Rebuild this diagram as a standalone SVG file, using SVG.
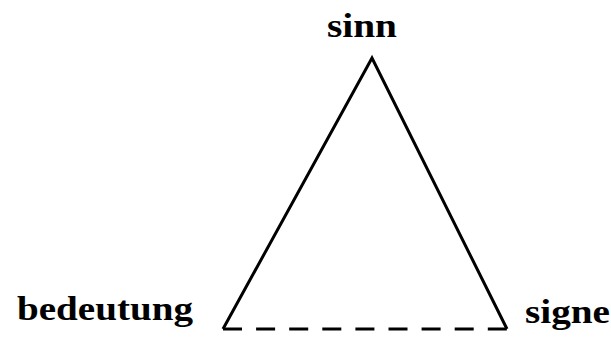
<svg xmlns="http://www.w3.org/2000/svg" width="611" height="343" viewBox="0 0 611 343">
<style>
.lbl{font-family:"Liberation Serif","Times New Roman",serif;font-size:34px;font-weight:bold;fill:#000;}
.edge{stroke:#000;stroke-width:3;fill:none;stroke-linecap:butt;stroke-linejoin:miter;}
</style>
<rect width="611" height="343" fill="#fff"/>
<g id="connectors">
<path class="edge" d="M223,329 L372,58 L507,329"/>
<path class="edge" d="M223,329 L507,329" stroke-dasharray="19 14.1"/>
</g>
<g id="sinn"><text class="lbl" x="327" y="37" textLength="70" lengthAdjust="spacingAndGlyphs">sinn</text></g>
<g id="bedeutung"><text class="lbl" x="17" y="320" textLength="176" lengthAdjust="spacingAndGlyphs">bedeutung</text></g>
<g id="signe"><text class="lbl" x="525" y="323" textLength="85" lengthAdjust="spacingAndGlyphs">signe</text></g>
</svg>
